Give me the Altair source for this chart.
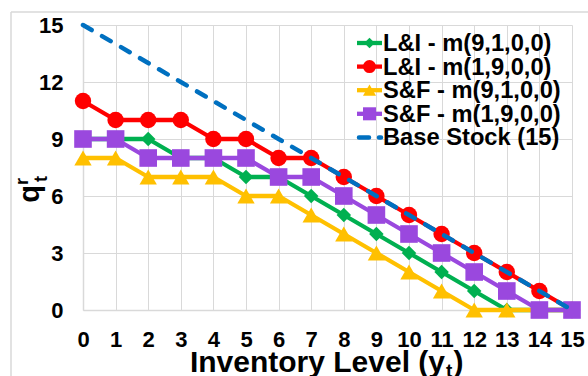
import altair as alt
import pandas as pd

# ---- data ----
inventory = list(range(16))
li_m9100 = [9, 9, 9, 8, 8, 7, 7, 6, 5, 4, 3, 2, 1, 0, 0, 0]
li_m1900 = [11, 10, 10, 10, 9, 9, 8, 8, 7, 6, 5, 4, 3, 2, 1, 0]
sf_m9100 = [8, 8, 7, 7, 7, 6, 6, 5, 4, 3, 2, 1, 0, 0, 0, 0]
sf_m1900 = [9, 9, 8, 8, 8, 8, 7, 7, 6, 5, 4, 3, 2, 1, 0, 0]
base_stock = [15, 14, 13, 12, 11, 10, 9, 8, 7, 6, 5, 4, 3, 2, 1, 0]

series_names = ["L&I - m(9,1,0,0)", "L&I - m(1,9,0,0)", "S&F - m(9,1,0,0)",
                "S&F - m(1,9,0,0)", "Base Stock (15)"]
x_ticks = list(range(16))
y_ticks = [0, 3, 6, 9, 12, 15]

FONT = "Liberation Sans"
W, H = 489, 285
GRID = "#d9d9d9"

styles = [
    ("#00B050", "diamond", 210, 110),
    ("#FF0000", "circle", 270, 170),
    ("#FFC000", "triangle-up", 300, 170),
    ("#9A48DE", "square", 310, 170),
]

xenc = alt.X("x:Q", scale=alt.Scale(domain=[0, 15], nice=False),
             axis=alt.Axis(values=x_ticks, title=None, grid=True, labelFlush=False,
                           ticks=False, tickSize=0, labelPadding=19))
yenc = alt.Y("y:Q", scale=alt.Scale(domain=[0, 15], nice=False),
             axis=alt.Axis(values=y_ticks, title=None, grid=True, labelFlush=False,
                           ticks=False, tickSize=0, labelPadding=20))

one = pd.DataFrame({"a": [0]})
layers = []

# outer chart border (Excel chart frame)
layers.append(alt.Chart(one).mark_rule(color=GRID, strokeWidth=1.5).encode(
    x=alt.value(-72), x2=alt.value(W + 40), y=alt.value(-13)))
layers.append(alt.Chart(one).mark_rule(color=GRID, strokeWidth=1.5).encode(
    x=alt.value(-72), y=alt.value(-13), y2=alt.value(H + 80)))

all_vals = [li_m9100, li_m1900, sf_m9100, sf_m1900]
for vals, (col, shp, sz, _) in zip(all_vals, styles):
    df = pd.DataFrame({"x": inventory, "y": vals})
    b = alt.Chart(df).encode(x=xenc, y=yenc)
    layers.append(b.mark_line(color=col, strokeWidth=4.3, strokeJoin="round"))
    layers.append(b.mark_point(shape=shp, size=sz, filled=True, color=col, opacity=1))

dfb = pd.DataFrame({"x": inventory, "y": base_stock})
layers.append(alt.Chart(dfb).mark_line(color="#0070C0", strokeWidth=4.5, strokeCap="round",
                                       strokeDash=[10, 12]).encode(x=xenc, y=yenc))

# manual legend
for i, name in enumerate(series_names):
    ly = 18 + i * 23.6
    if i < 4:
        col, shp, _, lsz = styles[i]
        layers.append(alt.Chart(one).mark_rule(color=col, strokeWidth=4.3).encode(
            x=alt.value(274), x2=alt.value(299), y=alt.value(ly)))
        layers.append(alt.Chart(one).mark_point(shape=shp, size=lsz, filled=True,
                                                color=col, opacity=1).encode(
            x=alt.value(286.5), y=alt.value(ly)))
    else:
        layers.append(alt.Chart(one).mark_rule(color="#0070C0", strokeWidth=4.5,
                                               strokeCap="round",
                                               strokeDash=[10, 10]).encode(
            x=alt.value(276), x2=alt.value(298), y=alt.value(ly)))
    layers.append(alt.Chart(pd.DataFrame({"t": [name]})).mark_text(
        font=FONT, fontWeight="bold", fontSize=23.7, align="left", baseline="middle",
        color="black").encode(text="t:N", x=alt.value(300), y=alt.value(ly + 1)))

# x-axis title with subscript
layers.append(alt.Chart(pd.DataFrame({"t": ["Inventory Level (y"]})).mark_text(
    font=FONT, fontWeight="bold", fontSize=30, align="right", baseline="alphabetic",
    color="black").encode(text="t:N", x=alt.value(362), y=alt.value(347)))
layers.append(alt.Chart(pd.DataFrame({"t": ["t"]})).mark_text(
    font=FONT, fontWeight="bold", fontSize=19, align="left", baseline="alphabetic",
    color="black").encode(text="t:N", x=alt.value(363), y=alt.value(352)))
layers.append(alt.Chart(pd.DataFrame({"t": [")"]})).mark_text(
    font=FONT, fontWeight="bold", fontSize=30, align="left", baseline="alphabetic",
    color="black").encode(text="t:N", x=alt.value(370.5), y=alt.value(347)))

# y-axis title q^r_t (rotated)
layers.append(alt.Chart(pd.DataFrame({"t": ["q"]})).mark_text(
    font=FONT, fontWeight="bold", fontSize=29, align="center", baseline="alphabetic",
    angle=270, color="black").encode(text="t:N", x=alt.value(39 - 83), y=alt.value(194 - 25)))
layers.append(alt.Chart(pd.DataFrame({"t": ["r"]})).mark_text(
    font=FONT, fontWeight="bold", fontSize=18, align="left", baseline="alphabetic",
    angle=270, color="black").encode(text="t:N", x=alt.value(28 - 83), y=alt.value(185 - 25)))
layers.append(alt.Chart(pd.DataFrame({"t": ["t"]})).mark_text(
    font=FONT, fontWeight="bold", fontSize=18, align="left", baseline="alphabetic",
    angle=270, color="black").encode(text="t:N", x=alt.value(47 - 83), y=alt.value(182 - 25)))

chart = alt.layer(*layers).properties(
    width=W, height=H,
    autosize=alt.AutoSizeParams(type="none"),
    padding={"left": 83, "top": 25, "right": 16, "bottom": 66},
    background="white",
).configure_view(stroke=None).configure_axis(
    labelFont=FONT, labelFontWeight="bold", labelFontSize=22, labelColor="black",
    gridColor=GRID, gridWidth=1, domainColor=GRID, domainWidth=1.5,
)

chart.save("out.html", embed_options={"renderer": "svg", "actions": False})
